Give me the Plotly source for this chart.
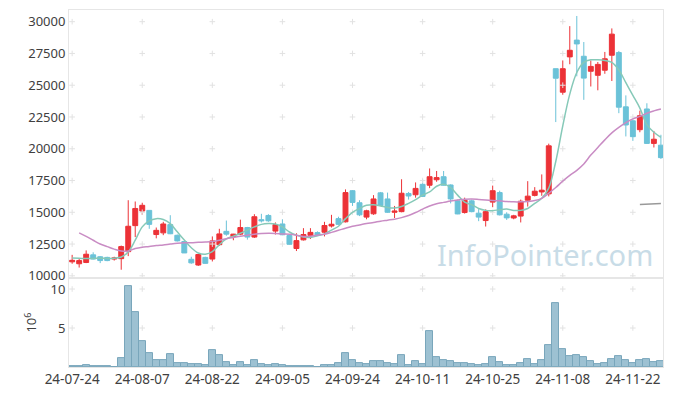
import plotly.graph_objects as go
from plotly.subplots import make_subplots

dates = ["24-07-24","24-07-25","24-07-26","24-07-29","24-07-30","24-07-31","24-08-01","24-08-02","24-08-05","24-08-06",
         "24-08-07","24-08-08","24-08-09","24-08-12","24-08-13","24-08-14","24-08-16","24-08-19","24-08-20","24-08-21",
         "24-08-22","24-08-23","24-08-26","24-08-27","24-08-28","24-08-29","24-08-30","24-09-02","24-09-03","24-09-04",
         "24-09-05","24-09-06","24-09-09","24-09-10","24-09-11","24-09-12","24-09-13","24-09-19","24-09-20","24-09-23",
         "24-09-24","24-09-25","24-09-26","24-09-27","24-09-30","24-10-02","24-10-04","24-10-07","24-10-08","24-10-10",
         "24-10-11","24-10-14","24-10-15","24-10-16","24-10-17","24-10-18","24-10-21","24-10-22","24-10-23","24-10-24",
         "24-10-25","24-10-28","24-10-29","24-10-30","24-10-31","24-11-01","24-11-04","24-11-05","24-11-06","24-11-07",
         "24-11-08","24-11-11","24-11-12","24-11-13","24-11-14","24-11-15","24-11-18","24-11-19","24-11-20","24-11-21",
         "24-11-22","24-11-25","24-11-26","24-11-27","24-11-28"]

open_ = [11100,10950,11050,11650,11500,11450,11320,11350,11900,13950,
         15100,15150,13250,13380,14030,13190,12700,11300,10850,11450,
         11320,12450,13500,13080,13280,13800,13050,14420,14750,13520,
         14080,13170,12150,12830,13180,13400,13430,13920,14500,14250,
         16700,15750,14620,14880,16530,16050,15000,15050,16480,16380,
         17200,17130,17560,17800,17150,15900,14980,15900,14930,14350,
         15800,16550,14850,14550,14700,15950,16330,16600,16450,26300,
         24450,27230,28550,27280,26100,25780,26180,27360,27570,23300,
         22200,21500,23130,20420,20280]
high = [11650,11400,12000,11850,11550,11500,11500,12380,15950,15850,
        15750,15150,13800,14250,14770,13250,12750,11500,11700,11500,
        13100,13700,14350,13300,14420,13850,14850,14880,14850,14200,
        14450,13200,13350,13750,13750,13500,14250,14800,14650,16800,
        16750,15950,15200,16350,16600,16550,15500,17600,16600,17350,
        17600,18450,18250,18250,17200,16000,16150,16000,15250,15230,
        17100,16700,15000,14800,16000,17450,16980,17980,20400,26300,
        26950,29650,30450,28400,26950,26830,27620,29470,27700,24200,
        22300,23000,23580,21400,21100]
low = [10950,10650,11000,11300,11000,11150,11200,10480,11550,13050,
       14800,13700,12950,13200,13280,12700,11800,10950,10780,10950,
       11130,12350,13150,12800,13200,12850,12980,14200,14250,13250,
       13200,12450,11950,12780,12900,13150,13100,13800,14000,14200,
       15500,14700,14450,14800,15500,14950,14550,15000,16000,16150,
       16200,16900,17400,17100,15700,14850,14900,15000,14300,13880,
       15400,14750,14400,14450,14200,15450,16250,16300,16250,22100,
       24250,26650,25700,23850,24900,24600,25900,25330,22800,20970,
       20620,21300,20400,20100,19200]
close = [11220,11200,11700,11320,11200,11200,11400,12300,13900,15300,
         15550,14050,13580,14080,13310,12750,11800,11020,11680,10980,
         12750,13300,13280,13280,13800,13050,14650,14330,14330,14030,
         13230,12480,12770,13250,13420,13170,13960,14060,14050,16550,
         15780,14800,15120,16050,15530,15000,15100,16500,16280,16880,
         16250,17800,17730,17130,16050,14870,15950,15050,14620,15050,
         16700,14800,14560,14720,15870,16270,16660,16740,20230,25550,
         26300,27750,28250,25560,26480,26640,27080,29020,23270,21870,
         20950,22600,20420,20750,19300]

ma5 = [11400,11380,11360,11370,11380,11370,11390,11480,11880,12800,
       13850,14330,14500,14430,14110,13460,12810,12210,11800,11700,
       11900,12450,12900,13120,13350,13600,13850,14050,14120,14080,
       13850,13450,13200,13050,13020,13150,13300,13600,13900,14500,
       15000,15300,15550,15600,15500,15380,15340,15450,15700,16000,
       16350,16600,17050,17200,16950,16350,15800,15600,15300,15150,
       15130,15200,15250,15150,15150,15300,15700,16100,16900,19000,
       21800,24300,26000,26800,27000,27000,26950,26800,26200,25200,
       24200,23200,21900,21300,20900]
ma20 = [None,13380,13100,12800,12500,12300,12100,11950,11950,12150,
        12250,12300,12380,12430,12500,12560,12600,12610,12640,12660,
        12700,12800,12920,13020,13120,13200,13280,13330,13350,13340,
        13300,13270,13200,13100,13120,13200,13280,13420,13580,13750,
        13900,14000,14120,14200,14300,14380,14460,14580,14750,14980,
        15250,15500,15680,15780,15880,15960,16020,16040,16010,15970,
        15930,15900,15850,15820,15820,15850,15920,16100,16500,16950,
        17450,17900,18300,18800,19500,20100,20700,21250,21680,22050,
        22350,22550,22800,22980,23130]
ma_long = [None]*81 + [15620,15640,15660,15690]

volume = [0.17,0.17,0.3,0.15,0.15,0.15,0.02,1.15,10.4,7.0,
          3.3,1.8,0.9,0.9,1.66,0.5,0.5,0.38,0.38,0.25,
          2.17,1.53,0.64,0.25,0.64,0.25,0.9,0.38,0.25,0.38,
          0.25,0.12,0.12,0.12,0.12,0.02,0.25,0.25,0.5,1.8,
          0.9,0.5,0.34,0.8,0.8,0.5,0.38,1.53,0.25,0.8,
          0.38,4.64,1.28,0.94,0.8,0.5,0.5,0.38,0.25,0.38,
          1.28,0.64,0.25,0.25,0.5,1.02,0.38,0.9,2.8,8.17,
          2.3,1.4,1.53,1.28,0.77,0.38,0.5,1.02,1.4,0.9,
          0.5,0.9,1.02,0.64,0.77]

price_ticks = [10000,12500,15000,17500,20000,22500,25000,27500,30000]
volume_ticks = [5,10]
x_ticks = dates[::10]

RED = "#EC3237"
BLUE = "#6BC2D8"
FONT = "Noto Sans"

fig = make_subplots(rows=2, cols=1, shared_xaxes=True, vertical_spacing=0,
                    row_heights=[0.751, 0.249])

# grid crosses
cx, cy = [], []
for t in x_ticks:
    for v in price_ticks:
        cx.append(t); cy.append(v)
fig.add_trace(go.Scatter(x=cx, y=cy, mode="markers", hoverinfo="skip",
                         marker=dict(symbol="cross-thin", size=4,
                                     line=dict(color="#e2e2e2", width=1))),
              row=1, col=1)
vx, vy = [], []
for t in x_ticks:
    for v in volume_ticks:
        vx.append(t); vy.append(v)
fig.add_trace(go.Scatter(x=vx, y=vy, mode="markers", hoverinfo="skip",
                         marker=dict(symbol="cross-thin", size=4,
                                     line=dict(color="#e2e2e2", width=1))),
              row=2, col=1)

fig.add_trace(go.Candlestick(x=dates, open=open_, high=high, low=low, close=close,
                             increasing=dict(line=dict(color=RED, width=1), fillcolor=RED),
                             decreasing=dict(line=dict(color=BLUE, width=1), fillcolor=BLUE),
                             whiskerwidth=0, hoverinfo="skip"),
              row=1, col=1)
fig.add_trace(go.Scatter(x=dates, y=ma5, mode="lines", line=dict(color="#86C9B8", width=1.5, shape="spline"),
                         hoverinfo="skip"), row=1, col=1)
fig.add_trace(go.Scatter(x=dates, y=ma20, mode="lines", line=dict(color="#C98CC4", width=1.5, shape="spline"),
                         hoverinfo="skip"), row=1, col=1)
fig.add_trace(go.Scatter(x=dates, y=ma_long, mode="lines", line=dict(color="#999999", width=1.5),
                         hoverinfo="skip"), row=1, col=1)

fig.add_trace(go.Bar(x=dates, y=volume, width=1,
                     marker=dict(color="#9DC1D2", line=dict(color="#79A6BB", width=1)),
                     hoverinfo="skip"), row=2, col=1)

fig.add_annotation(text="InfoPointer.com", xref="paper", yref="paper",
                   x=0.9865, y=0.315, xanchor="right", yanchor="middle", showarrow=False,
                   font=dict(family=FONT, size=29, color="#C8DCE7"))

axis_common = dict(showgrid=False, zeroline=False, showline=True, mirror=True,
                   linecolor="#e6e6e6", linewidth=1, ticks="", automargin=False,
                   tickfont=dict(family=FONT, size=13, color="#404040"))

fig.update_xaxes(type="category", categoryorder="array", categoryarray=dates,
                 range=[-0.45, 84.3], tickvals=x_ticks, rangeslider_visible=False,
                 **axis_common)
fig.update_xaxes(showticklabels=False, row=1, col=1)
fig.update_xaxes(tickfont=dict(family=FONT, size=13.5, color="#404040"), row=2, col=1)
fig.update_yaxes(range=[9820, 30920], tickvals=price_ticks, tickformat="d", row=1, col=1, **axis_common)
fig.update_yaxes(range=[0, 11.4], tickvals=volume_ticks, tickformat="d", row=2, col=1,
                 title=dict(text="10<sup>6</sup>", font=dict(family=FONT, size=13, color="#404040"), standoff=10),
                 **axis_common)

fig.update_layout(width=673, height=396, margin=dict(l=69, r=10, t=10, b=29),
                  paper_bgcolor="white", plot_bgcolor="white", showlegend=False,
                  boxgap=0.3, boxgroupgap=0, bargap=0,
                  font=dict(family=FONT))

fig.write_html("out.html", config={"displayModeBar": False},
               post_script="document.body.style.margin='0';")
